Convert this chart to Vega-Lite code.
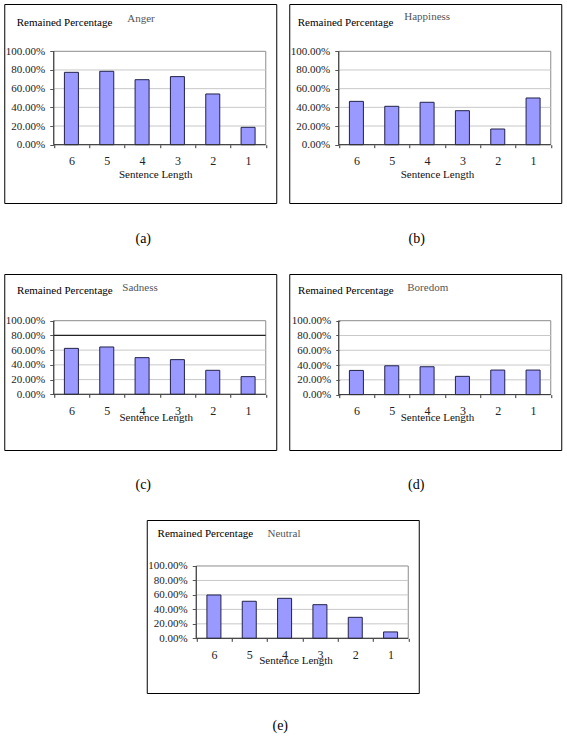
{
  "$schema": "https://vega.github.io/schema/vega-lite/v6.json",
  "background": "white",
  "padding": {"left": 3, "top": 3, "right": 5, "bottom": 5},
  "config": {
    "view": {"stroke": "#000000", "strokeWidth": 1},
    "font": "Liberation Serif",
    "axis": {"labelFont": "Liberation Serif", "titleFont": "Liberation Serif", "titleFontWeight": "normal",
             "labelOverlap": false, "labelFlush": false, "domain": false, "grid": false, "labelColor": "#222222"},
    "axisX": {"tickSize": 3, "tickColor": "#333333", "labelPadding": 8, "labelFontSize": 12,
              "titleFontSize": 11, "titleColor": "#111111", "titleBaseline": "middle", "titleAlign": "center"},
    "axisY": {"tickSize": 4, "tickColor": "#555555", "labelPadding": 5, "labelFontSize": 11,
              "titleFontSize": 11, "titleColor": "#000000", "titleAngle": 0, "titleAlign": "left", "titleBaseline": "alphabetic"},
    "title": {"font": "Liberation Serif", "fontSize": 14, "fontWeight": "normal", "color": "#000000"},
    "concat": {"spacing": 11}
  },
  "datasets": {
    "bars": [
      {"emotion": "Anger", "len": 6, "pct": 0.775},
      {"emotion": "Anger", "len": 5, "pct": 0.786},
      {"emotion": "Anger", "len": 4, "pct": 0.696},
      {"emotion": "Anger", "len": 3, "pct": 0.729},
      {"emotion": "Anger", "len": 2, "pct": 0.543},
      {"emotion": "Anger", "len": 1, "pct": 0.186},
      {"emotion": "Happiness", "len": 6, "pct": 0.464},
      {"emotion": "Happiness", "len": 5, "pct": 0.411},
      {"emotion": "Happiness", "len": 4, "pct": 0.454},
      {"emotion": "Happiness", "len": 3, "pct": 0.364},
      {"emotion": "Happiness", "len": 2, "pct": 0.168},
      {"emotion": "Happiness", "len": 1, "pct": 0.5},
      {"emotion": "Sadness", "len": 6, "pct": 0.624},
      {"emotion": "Sadness", "len": 5, "pct": 0.643},
      {"emotion": "Sadness", "len": 4, "pct": 0.498},
      {"emotion": "Sadness", "len": 3, "pct": 0.471},
      {"emotion": "Sadness", "len": 2, "pct": 0.326},
      {"emotion": "Sadness", "len": 1, "pct": 0.24},
      {"emotion": "Boredom", "len": 6, "pct": 0.327},
      {"emotion": "Boredom", "len": 5, "pct": 0.39},
      {"emotion": "Boredom", "len": 4, "pct": 0.377},
      {"emotion": "Boredom", "len": 3, "pct": 0.247},
      {"emotion": "Boredom", "len": 2, "pct": 0.332},
      {"emotion": "Boredom", "len": 1, "pct": 0.332},
      {"emotion": "Neutral", "len": 6, "pct": 0.599},
      {"emotion": "Neutral", "len": 5, "pct": 0.512},
      {"emotion": "Neutral", "len": 4, "pct": 0.553},
      {"emotion": "Neutral", "len": 3, "pct": 0.465},
      {"emotion": "Neutral", "len": 2, "pct": 0.29},
      {"emotion": "Neutral", "len": 1, "pct": 0.088}
    ],
    "grid": [{"g": 0.2}, {"g": 0.4}, {"g": 0.6}, {"g": 0.8}]
  },
  "vconcat": [
    {
      "hconcat": [
        {
          "width": 272, "height": 199,
          "data": {"values": [{}]},
          "title": {"text": "(a)", "orient": "bottom", "offset": 29, "dx": 3, "baseline": "top"},
          "resolve": {"axis": {"x": "independent", "y": "independent"}},
          "layer": [
            {"mark": {"type": "rect", "fill": "transparent", "stroke": "#8c8c8c", "strokeWidth": 1},
             "encoding": {"x": {"datum": 6.5, "axis": null}, "x2": {"datum": 0.5}, "y": {"datum": 0, "axis": null}, "y2": {"datum": 1}}},
            {"data": {"name": "grid"}, "mark": {"type": "rule", "color": "#c8c8c8"},
             "encoding": {"y": {"field": "g", "type": "quantitative", "axis": null}, "x": {"datum": 6.5, "axis": null}, "x2": {"datum": 0.5}}},
            {"data": {"name": "bars"}, "transform": [{"filter": "datum.emotion === 'Anger'"}],
             "mark": {"type": "bar", "width": 14, "fill": "#9999ff", "stroke": "#22224a", "strokeWidth": 1},
             "encoding": {
               "x": {"field": "len", "type": "quantitative",
                     "scale": {"domain": [0.203, 7.901], "reverse": true, "nice": false, "zero": false, "padding": 0},
                     "axis": {"orient": "bottom", "offset": -58.3, "values": [6.5, 6, 5.5, 5, 4.5, 4, 3.5, 3, 2.5, 2, 1.5, 1, 0.5],
                              "labelExpr": "datum.value % 1 === 0 ? format(datum.value, 'd') : ''",
                              "tickOpacity": {"condition": {"test": "datum.value % 1 === 0", "value": 0}, "value": 1},
                              "labelOverlap": false,
                              "title": "Sentence Length", "titleX": 151, "titleY": 30}},
               "y": {"field": "pct", "type": "quantitative",
                     "scale": {"domain": [-0.6242, 1.5064], "nice": false, "zero": false, "padding": 0},
                     "axis": {"orient": "left", "offset": -49.5, "values": [0, 0.2, 0.4, 0.6, 0.8, 1], "format": ".2%",
                              "labelOverlap": false,
                              "title": "Remained Percentage", "titleX": -37.5, "titleY": 21.7}},
               "y2": {"datum": 0}
             }},
            {"mark": {"type": "rule", "color": "#333333"}, "encoding": {"x": {"datum": 6.5, "axis": null}, "y": {"datum": 0, "axis": null}, "y2": {"datum": 1}}},
            {"mark": {"type": "rule", "color": "#333333"}, "encoding": {"y": {"datum": 0, "axis": null}, "x": {"datum": 6.5, "axis": null}, "x2": {"datum": 0.5}}},
            {"mark": {"type": "text", "text": "Anger", "align": "left", "baseline": "alphabetic", "fontSize": 11, "color": "#555555"},
             "encoding": {"x": {"datum": 4.42, "axis": null}, "y": {"datum": 1.317, "axis": null}}}
          ]
        },
        {
          "width": 272, "height": 199,
          "data": {"values": [{}]},
          "title": {"text": "(b)", "orient": "bottom", "offset": 29, "dx": -8.5, "baseline": "top"},
          "resolve": {"axis": {"x": "independent", "y": "independent"}},
          "layer": [
            {"mark": {"type": "rect", "fill": "transparent", "stroke": "#8c8c8c", "strokeWidth": 1},
             "encoding": {"x": {"datum": 6.5, "axis": null}, "x2": {"datum": 0.5}, "y": {"datum": 0, "axis": null}, "y2": {"datum": 1}}},
            {"data": {"name": "grid"}, "mark": {"type": "rule", "color": "#c8c8c8"},
             "encoding": {"y": {"field": "g", "type": "quantitative", "axis": null}, "x": {"datum": 6.5, "axis": null}, "x2": {"datum": 0.5}}},
            {"data": {"name": "bars"}, "transform": [{"filter": "datum.emotion === 'Happiness'"}],
             "mark": {"type": "bar", "width": 14, "fill": "#9999ff", "stroke": "#22224a", "strokeWidth": 1},
             "encoding": {
               "x": {"field": "len", "type": "quantitative",
                     "scale": {"domain": [0.203, 7.901], "reverse": true, "nice": false, "zero": false, "padding": 0},
                     "axis": {"orient": "bottom", "offset": -58.3, "values": [6.5, 6, 5.5, 5, 4.5, 4, 3.5, 3, 2.5, 2, 1.5, 1, 0.5],
                              "labelExpr": "datum.value % 1 === 0 ? format(datum.value, 'd') : ''",
                              "tickOpacity": {"condition": {"test": "datum.value % 1 === 0", "value": 0}, "value": 1},
                              "labelOverlap": false,
                              "title": "Sentence Length", "titleX": 147.7, "titleY": 30}},
               "y": {"field": "pct", "type": "quantitative",
                     "scale": {"domain": [-0.6242, 1.5064], "nice": false, "zero": false, "padding": 0},
                     "axis": {"orient": "left", "offset": -49.5, "values": [0, 0.2, 0.4, 0.6, 0.8, 1], "format": ".2%",
                              "labelOverlap": false,
                              "title": "Remained Percentage", "titleX": -41.5, "titleY": 21.7}},
               "y2": {"datum": 0}
             }},
            {"mark": {"type": "rule", "color": "#333333"}, "encoding": {"x": {"datum": 6.5, "axis": null}, "y": {"datum": 0, "axis": null}, "y2": {"datum": 1}}},
            {"mark": {"type": "rule", "color": "#333333"}, "encoding": {"y": {"datum": 0, "axis": null}, "x": {"datum": 6.5, "axis": null}, "x2": {"datum": 0.5}}},
            {"mark": {"type": "text", "text": "Happiness", "align": "left", "baseline": "alphabetic", "fontSize": 11, "color": "#555555"},
             "encoding": {"x": {"datum": 4.646, "axis": null}, "y": {"datum": 1.332, "axis": null}}}
          ]
        }
      ]
    },
    {
      "hconcat": [
        {
          "width": 272, "height": 176,
          "data": {"values": [{}]},
          "title": {"text": "(c)", "orient": "bottom", "offset": 28, "dx": 3, "baseline": "top"},
          "resolve": {"axis": {"x": "independent", "y": "independent"}},
          "layer": [
            {"mark": {"type": "rect", "fill": "transparent", "stroke": "#8c8c8c", "strokeWidth": 1},
             "encoding": {"x": {"datum": 6.5, "axis": null}, "x2": {"datum": 0.5}, "y": {"datum": 0, "axis": null}, "y2": {"datum": 1}}},
            {"data": {"name": "grid"}, "mark": {"type": "rule", "color": "#c8c8c8"},
             "encoding": {"y": {"field": "g", "type": "quantitative", "axis": null}, "x": {"datum": 6.5, "axis": null}, "x2": {"datum": 0.5}}},
            {"mark": {"type": "rule", "color": "#222222", "strokeWidth": 1.3}, "encoding": {"y": {"datum": 0.8, "axis": null}, "x": {"datum": 6.5, "axis": null}, "x2": {"datum": 0.5}}},
            {"data": {"name": "bars"}, "transform": [{"filter": "datum.emotion === 'Sadness'"}],
             "mark": {"type": "bar", "width": 14, "fill": "#9999ff", "stroke": "#22224a", "strokeWidth": 1},
             "encoding": {
               "x": {"field": "len", "type": "quantitative",
                     "scale": {"domain": [0.203, 7.901], "reverse": true, "nice": false, "zero": false, "padding": 0},
                     "axis": {"orient": "bottom", "offset": -55.7, "values": [6.5, 6, 5.5, 5, 4.5, 4, 3.5, 3, 2.5, 2, 1.5, 1, 0.5],
                              "labelExpr": "datum.value % 1 === 0 ? format(datum.value, 'd') : ''",
                              "tickOpacity": {"condition": {"test": "datum.value % 1 === 0", "value": 0}, "value": 1},
                              "labelOverlap": false,
                              "title": "Sentence Length", "titleX": 151.5, "titleY": 23.4}},
               "y": {"field": "pct", "type": "quantitative",
                     "scale": {"domain": [-0.7568, 1.6345], "nice": false, "zero": false, "padding": 0},
                     "axis": {"orient": "left", "offset": -49.5, "values": [0, 0.2, 0.4, 0.6, 0.8, 1], "format": ".2%",
                              "labelOverlap": false,
                              "title": "Remained Percentage", "titleX": -37.2, "titleY": 19}},
               "y2": {"datum": 0}
             }},
            {"mark": {"type": "rule", "color": "#333333"}, "encoding": {"x": {"datum": 6.5, "axis": null}, "y": {"datum": 0, "axis": null}, "y2": {"datum": 1}}},
            {"mark": {"type": "rule", "color": "#333333"}, "encoding": {"y": {"datum": 0, "axis": null}, "x": {"datum": 6.5, "axis": null}, "x2": {"datum": 0.5}}},
            {"mark": {"type": "text", "text": "Sadness", "align": "left", "baseline": "alphabetic", "fontSize": 11, "color": "#555555"},
             "encoding": {"x": {"datum": 4.561, "axis": null}, "y": {"datum": 1.4035, "axis": null}}}
          ]
        },
        {
          "width": 272, "height": 176,
          "data": {"values": [{}]},
          "title": {"text": "(d)", "orient": "bottom", "offset": 28, "dx": -9, "baseline": "top"},
          "resolve": {"axis": {"x": "independent", "y": "independent"}},
          "layer": [
            {"mark": {"type": "rect", "fill": "transparent", "stroke": "#8c8c8c", "strokeWidth": 1},
             "encoding": {"x": {"datum": 6.5, "axis": null}, "x2": {"datum": 0.5}, "y": {"datum": 0, "axis": null}, "y2": {"datum": 1}}},
            {"data": {"name": "grid"}, "mark": {"type": "rule", "color": "#c8c8c8"},
             "encoding": {"y": {"field": "g", "type": "quantitative", "axis": null}, "x": {"datum": 6.5, "axis": null}, "x2": {"datum": 0.5}}},
            {"data": {"name": "bars"}, "transform": [{"filter": "datum.emotion === 'Boredom'"}],
             "mark": {"type": "bar", "width": 14, "fill": "#9999ff", "stroke": "#22224a", "strokeWidth": 1},
             "encoding": {
               "x": {"field": "len", "type": "quantitative",
                     "scale": {"domain": [0.203, 7.901], "reverse": true, "nice": false, "zero": false, "padding": 0},
                     "axis": {"orient": "bottom", "offset": -55.4, "values": [6.5, 6, 5.5, 5, 4.5, 4, 3.5, 3, 2.5, 2, 1.5, 1, 0.5],
                              "labelExpr": "datum.value % 1 === 0 ? format(datum.value, 'd') : ''",
                              "tickOpacity": {"condition": {"test": "datum.value % 1 === 0", "value": 0}, "value": 1},
                              "labelOverlap": false,
                              "title": "Sentence Length", "titleX": 147.8, "titleY": 22.7}},
               "y": {"field": "pct", "type": "quantitative",
                     "scale": {"domain": [-0.7497, 1.632], "nice": false, "zero": false, "padding": 0},
                     "axis": {"orient": "left", "offset": -50.5, "values": [0, 0.2, 0.4, 0.6, 0.8, 1], "format": ".2%",
                              "labelOverlap": false,
                              "title": "Remained Percentage", "titleX": -42.2, "titleY": 19}},
               "y2": {"datum": 0}
             }},
            {"mark": {"type": "rule", "color": "#333333"}, "encoding": {"x": {"datum": 6.5, "axis": null}, "y": {"datum": 0, "axis": null}, "y2": {"datum": 1}}},
            {"mark": {"type": "rule", "color": "#333333"}, "encoding": {"y": {"datum": 0, "axis": null}, "x": {"datum": 6.5, "axis": null}, "x2": {"datum": 0.5}}},
            {"mark": {"type": "text", "text": "Boredom", "align": "left", "baseline": "alphabetic", "fontSize": 11, "color": "#555555"},
             "encoding": {"x": {"datum": 4.561, "axis": null}, "y": {"datum": 1.4035, "axis": null}}}
          ]
        }
      ]
    },
    {
      "width": 272, "height": 173,
      "data": {"values": [{}]},
      "title": {"text": "(e)", "orient": "bottom", "offset": 26, "dx": -2.5, "baseline": "top"},
      "resolve": {"axis": {"x": "independent", "y": "independent"}},
      "layer": [
        {"mark": {"type": "rect", "fill": "transparent", "stroke": "#8c8c8c", "strokeWidth": 1},
         "encoding": {"x": {"datum": 6.5, "axis": null}, "x2": {"datum": 0.5}, "y": {"datum": 0, "axis": null}, "y2": {"datum": 1}}},
        {"data": {"name": "grid"}, "mark": {"type": "rule", "color": "#c8c8c8"},
         "encoding": {"y": {"field": "g", "type": "quantitative", "axis": null}, "x": {"datum": 6.5, "axis": null}, "x2": {"datum": 0.5}}},
        {"data": {"name": "bars"}, "transform": [{"filter": "datum.emotion === 'Neutral'"}],
         "mark": {"type": "bar", "width": 14, "fill": "#9999ff", "stroke": "#22224a", "strokeWidth": 1},
         "encoding": {
           "x": {"field": "len", "type": "quantitative",
                 "scale": {"domain": [0.203, 7.901], "reverse": true, "nice": false, "zero": false, "padding": 0},
                 "axis": {"orient": "bottom", "offset": -54.7, "values": [6.5, 6, 5.5, 5, 4.5, 4, 3.5, 3, 2.5, 2, 1.5, 1, 0.5],
                          "labelExpr": "datum.value % 1 === 0 ? format(datum.value, 'd') : ''",
                          "tickOpacity": {"condition": {"test": "datum.value % 1 === 0", "value": 0}, "value": 1},
                          "labelOverlap": false,
                          "title": "Sentence Length", "titleX": 148.8, "titleY": 21.7}},
           "y": {"field": "pct", "type": "quantitative",
                 "scale": {"domain": [-0.7566, 1.6362], "nice": false, "zero": false, "padding": 0},
                 "axis": {"orient": "left", "offset": -49.5, "values": [0, 0.2, 0.4, 0.6, 0.8, 1], "format": ".2%",
                          "labelOverlap": false,
                          "title": "Remained Percentage", "titleX": -39.2, "titleY": 16}},
           "y2": {"datum": 0}
         }},
        {"mark": {"type": "rule", "color": "#333333"}, "encoding": {"x": {"datum": 6.5, "axis": null}, "y": {"datum": 0, "axis": null}, "y2": {"datum": 1}}},
        {"mark": {"type": "rule", "color": "#333333"}, "encoding": {"y": {"datum": 0, "axis": null}, "x": {"datum": 6.5, "axis": null}, "x2": {"datum": 0.5}}},
        {"mark": {"type": "text", "text": "Neutral", "align": "left", "baseline": "alphabetic", "fontSize": 11, "color": "#555555"},
         "encoding": {"x": {"datum": 4.485, "axis": null}, "y": {"datum": 1.401, "axis": null}}}
      ]
    }
  ],
  "spacing": 26,
  "center": true
}
